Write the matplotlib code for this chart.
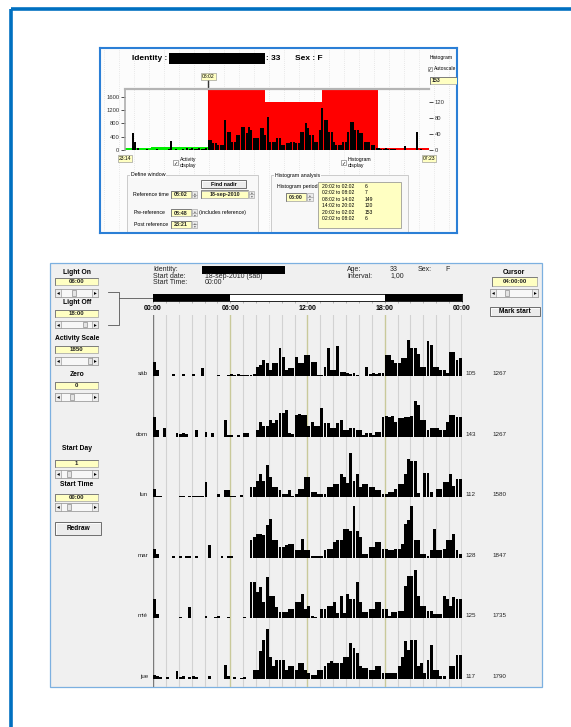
import matplotlib
matplotlib.use("Agg")
import matplotlib.pyplot as plt
import matplotlib.transforms as mtransforms
from matplotlib.patches import Rectangle
import numpy as np

plt.rcParams["font.family"] = ["Liberation Sans", "DejaVu Sans"]

W, H = 571, 727

# ---------------- values ----------------
age = "33"
sex = "F"
start_date = "18-sep-2010 (sáb)"

# reference window (hours counted from the first midnight)
ref_time = 32 + 2 / 60
pre_ref = 8 + 48 / 60
post_ref = 23 + 21 / 60
hist_period = 6
hist_values = [6, 7, 149, 120, 153, 6]

# 15 min activity bins of the reference window, from 23:14 on
top_bin = 0.25
top_activity = [
    0, 0, 0, 500, 250, 60, 0, 0, 0, 20, 0, 0, 0, 30, 0, 0,
    0, 0, 20, 280, 0, 20, 0, 0, 30, 0, 70, 40, 70, 40, 20, 50,
    30, 40, 60, 300, 300, 200, 200, 150, 150, 150, 900, 550, 550, 250, 250, 450,
    450, 700, 700, 500, 700, 600, 350, 350, 350, 650, 650, 450, 1000, 250, 250, 250,
    350, 350, 150, 150, 200, 200, 250, 250, 200, 200, 550, 550, 800, 650, 450, 450,
    250, 250, 600, 1250, 900, 900, 550, 550, 250, 150, 150, 150, 250, 250, 550, 850,
    850, 600, 600, 500, 500, 250, 250, 250, 150, 150, 70, 70, 40, 40, 50, 40,
    40, 40, 40, 0, 0, 0, 130, 0, 0, 0, 0, 550, 0, 20, 0, 0,
]

# actogram, one row per day, 15 min bins from 00:00
days = ["sáb", "dom", "lun", "mar", "mié", "jue"]
row_counts = [105, 143, 112, 128, 125, 117]
row_max = [1267, 1267, 1580, 1847, 1735, 1790]
act_bin = 0.25
activity_scale = 1850
light_on, light_off = 6, 18

sab = [500, 200, 0, 0, 0, 0, 60, 0, 0, 80, 0, 0, 80, 0, 0, 270,
       0, 0, 0, 0, 40, 0, 0, 50, 60, 40, 70, 30, 40, 50, 30, 60,
       330, 400, 570, 450, 210, 450, 450, 980, 690, 210, 270, 270, 690, 450, 450, 750,
       750, 510, 510, 40, 40, 330, 985, 210, 210, 1070, 150, 150, 90, 60, 90, 40,
       0, 0, 330, 60, 90, 60, 90, 120, 750, 750, 570, 450, 450, 630, 630, 1267,
       980, 980, 800, 330, 330, 1250, 1100, 330, 330, 210, 210, 90, 860, 860, 570, 630]
dom = [710, 240, 0, 300, 0, 0, 0, 120, 100, 120, 80, 0, 0, 240, 0, 0,
       180, 0, 120, 0, 0, 0, 590, 60, 40, 0, 60, 0, 120, 120, 0, 0,
       240, 530, 360, 360, 590, 470, 590, 830, 830, 950, 120, 80, 770, 790, 760, 770,
       360, 530, 360, 360, 1010, 470, 470, 300, 300, 470, 590, 240, 240, 300, 300, 240,
       240, 60, 120, 120, 60, 180, 180, 710, 740, 700, 720, 530, 650, 650, 710, 710,
       720, 1267, 1130, 590, 590, 240, 300, 300, 300, 240, 240, 530, 770, 770, 710, 710]
lun = [300, 60, 60, 0, 0, 0, 0, 0, 40, 60, 0, 40, 50, 60, 40, 60,
       530, 0, 0, 0, 120, 0, 240, 240, 60, 60, 0, 80, 0, 0, 360, 360,
       590, 830, 590, 1130, 710, 360, 360, 240, 120, 120, 240, 60, 120, 300, 300, 710,
       710, 180, 180, 100, 120, 120, 360, 360, 470, 470, 830, 710, 500, 1580, 590, 830,
       360, 470, 470, 360, 360, 240, 240, 120, 120, 180, 180, 300, 470, 470, 830, 1360,
       1300, 1300, 140, 0, 870, 870, 180, 0, 300, 300, 530, 530, 830, 410, 650, 650]
mar = [320, 140, 0, 0, 0, 0, 80, 0, 80, 0, 60, 80, 0, 80, 0, 0,
       0, 440, 0, 0, 0, 60, 0, 80, 60, 0, 0, 0, 0, 0, 620, 740,
       860, 860, 800, 1150, 1380, 620, 620, 380, 380, 440, 500, 500, 260, 260, 680, 260,
       260, 80, 60, 80, 80, 260, 320, 320, 560, 620, 620, 1030, 1030, 970, 1847, 970,
       740, 140, 140, 380, 380, 560, 560, 320, 320, 260, 260, 320, 320, 500, 1210, 1330,
       1847, 620, 620, 140, 140, 80, 260, 1030, 260, 260, 320, 620, 620, 860, 260, 140]
mie = [690, 150, 0, 0, 0, 0, 0, 0, 60, 0, 0, 390, 0, 0, 0, 0,
       90, 0, 0, 60, 90, 0, 0, 60, 0, 0, 0, 0, 40, 0, 1280, 1280,
       930, 1100, 570, 1460, 800, 800, 390, 210, 210, 210, 330, 330, 570, 570, 870, 330,
       450, 100, 60, 0, 330, 330, 450, 450, 570, 200, 800, 200, 870, 690, 690, 1280,
       570, 210, 210, 330, 330, 570, 570, 330, 330, 100, 210, 210, 270, 270, 1160, 1510,
       1510, 1735, 800, 450, 450, 270, 270, 160, 160, 160, 800, 690, 450, 750, 690, 690]
jue = [150, 90, 60, 0, 60, 0, 0, 270, 60, 90, 0, 60, 90, 60, 0, 0,
       0, 90, 0, 0, 0, 0, 510, 90, 0, 60, 0, 40, 60, 0, 0, 330,
       330, 1000, 1400, 1790, 800, 450, 690, 690, 690, 330, 450, 450, 330, 570, 570, 330,
       210, 150, 150, 330, 330, 450, 570, 630, 570, 570, 570, 800, 800, 1280, 1100, 920,
       450, 390, 390, 330, 330, 450, 450, 210, 210, 210, 210, 210, 450, 800, 1340, 1040,
       1400, 1400, 450, 570, 210, 690, 1220, 330, 330, 90, 90, 0, 450, 450, 860, 860]
day_activity = [sab, dom, lun, mar, mie, jue]


def fmt(h):
    m = int(round(h * 60)) % (24 * 60)
    return f"{m // 60:02d}:{m % 60:02d}"


def frac(x0, y0, x1, y1):
    return [x0 / W, 1 - y1 / H, (x1 - x0) / W, (y1 - y0) / H]


def field(ax, x0, y0, x1, y1, label, ha="center", fs=4.4):
    ax.add_patch(Rectangle((x0, y0), x1 - x0, y1 - y0, fc="#ffffc2", ec="#a0a0a0", lw=0.5, zorder=3))
    ax.plot([x0, x0, x1], [y1, y0, y0], color="#666666", lw=0.5, zorder=4)
    tx = (x0 + x1) / 2 if ha == "center" else x0 + 2
    ax.text(tx, (y0 + y1) / 2 + 0.3, label, fontsize=fs, fontweight="bold", ha=ha, va="center",
            color="#222222", zorder=5)


def scroll(ax, x0, y0, x1, y1, thumb):
    ax.add_patch(Rectangle((x0, y0), x1 - x0, y1 - y0, fc="#f7f7f7", ec="#8c8c8c", lw=0.5, zorder=3))
    for bx, arrow in ((x0, "◂"), (x1 - 6, "▸")):
        ax.add_patch(Rectangle((bx, y0), 6, y1 - y0, fc="#ececec", ec="#8c8c8c", lw=0.4, zorder=3))
        ax.text(bx + 3, (y0 + y1) / 2, arrow, fontsize=4, ha="center", va="center",
                family="DejaVu Sans", zorder=5)
    ax.add_patch(Rectangle((thumb, y0 + 0.6), 4, y1 - y0 - 1.2, fc="#e4e4e4", ec="#777777", lw=0.4, zorder=4))


def button(ax, x0, y0, x1, y1, label, fs=4.7):
    ax.add_patch(Rectangle((x0, y0), x1 - x0, y1 - y0, fc="#ececec", ec="#6e6e6e", lw=0.7, zorder=3))
    ax.plot([x0 + 0.6, x0 + 0.6, x1 - 1], [y1 - 1, y0 + 0.6, y0 + 0.6], color="white", lw=0.6, zorder=4)
    ax.text((x0 + x1) / 2, (y0 + y1) / 2 + 0.3, label, fontsize=fs, fontweight="bold",
            ha="center", va="center", zorder=5)


def spin(ax, x0, y0, x1, y1):
    ym = (y0 + y1) / 2
    for a, b, arrow in ((y0, ym, "▴"), (ym, y1, "▾")):
        ax.add_patch(Rectangle((x0, a), x1 - x0, b - a, fc="#ececec", ec="#9a9a9a", lw=0.4, zorder=3))
        ax.text((x0 + x1) / 2, (a + b) / 2, arrow, fontsize=2.6, ha="center", va="center",
                family="DejaVu Sans", color="#666666", zorder=5)


def check(ax, x, y):
    ax.add_patch(Rectangle((x, y), 4.5, 4.5, fc="white", ec="#666666", lw=0.4, zorder=3))
    ax.text(x + 2.25, y + 2.4, "✓", fontsize=3.6, ha="center", va="center",
            family="DejaVu Sans", zorder=5)


fig = plt.figure(figsize=(W / 100, H / 100), dpi=100)
fig.patch.set_facecolor("white")

pg = fig.add_axes([0, 0, 1, 1])
pg.set_xlim(0, W)
pg.set_ylim(H, 0)
pg.axis("off")

# outer page frame
pg.plot([11, 11], [9, H], color="#0070c0", lw=2.6, solid_capstyle="butt")
pg.plot([11, W], [9, 9], color="#0070c0", lw=2.6, solid_capstyle="butt")

# ================= inset screenshot (reference window) =================
ins = fig.add_axes(frac(100, 47.7, 456.7, 232.7))
ins.set_xlim(100, 456.7)
ins.set_ylim(232.7, 47.7)
ins.set_facecolor("#fcfcfc")
ins.set_xticks([])
ins.set_yticks([])
for s in ins.spines.values():
    s.set_color("#2b7fd6")
    s.set_linewidth(1.5)

for gx in np.arange(104, 456, 15):
    ins.plot([gx, gx], [50, 231], color="#d6d6d6", lw=0.5, ls=(0, (1, 2)), zorder=0)

ins.text(132, 58.5, "Identity :", fontsize=6, fontweight="bold", va="center")
ins.add_patch(Rectangle((169, 53), 96, 11, fc="black", zorder=3))
ins.text(266, 58.5, ": " + age, fontsize=6, fontweight="bold", va="center")
ins.text(295, 58.5, "Sex : " + sex, fontsize=6, fontweight="bold", va="center")
ins.text(430, 57, "Histogram", fontsize=3.6, va="center", clip_on=True)
check(ins, 427.5, 66.8)
ins.text(433.5, 69, "Autoscale", fontsize=3.6, va="center", clip_on=True)
field(ins, 430, 77, 458, 84, str(max(hist_values)), ha="left", fs=3.8)

check(ins, 173, 160)
ins.text(180, 159, "Activity", fontsize=3.7, va="center")
ins.text(180, 165.5, "display", fontsize=3.7, va="center")
check(ins, 341, 160)
ins.text(348, 159, "Histogram", fontsize=3.7, va="center")
ins.text(348, 165.5, "display", fontsize=3.7, va="center")

# Define window group
ins.add_patch(Rectangle((127, 175), 131, 65, fc="#f8f8f8", ec="#c4c4c4", lw=0.6, zorder=1))
ins.text(131, 175, "Define window", fontsize=3.8, va="center", zorder=2,
         bbox=dict(boxstyle="square,pad=0.1", fc="#fcfcfc", ec="none"))
button(ins, 201, 180, 246, 188, "Find nadir", fs=3.8)
ins.text(133, 194.5, "Reference time", fontsize=3.8, va="center")
field(ins, 171, 191, 191, 198, fmt(ref_time), fs=3.9)
spin(ins, 192, 191, 197, 198)
field(ins, 201, 190.5, 248, 198, start_date.split(" ")[0], fs=3.9)
spin(ins, 249, 190.5, 254, 198)
ins.text(134, 212.7, "Pre-reference", fontsize=3.8, va="center")
field(ins, 171, 209.3, 191, 216.3, fmt(pre_ref), fs=3.9)
spin(ins, 192, 209.3, 197, 216.3)
ins.text(199, 212.7, "(includes reference)", fontsize=3.8, va="center")
ins.text(134, 224.3, "Post reference", fontsize=3.8, va="center")
field(ins, 171, 221, 191, 228, fmt(post_ref), fs=3.9)
spin(ins, 192, 221, 197, 228)

# Histogram analysis group
ins.add_patch(Rectangle((271, 175), 137, 65, fc="#f8f8f8", ec="#c4c4c4", lw=0.6, zorder=1))
ins.text(275, 175, "Histogram analysis", fontsize=3.8, va="center", zorder=2,
         bbox=dict(boxstyle="square,pad=0.1", fc="#fcfcfc", ec="none"))
ins.text(277, 186.7, "Histogram period", fontsize=3.8, va="center")
field(ins, 286, 193, 306, 201, fmt(hist_period), fs=3.9)
spin(ins, 307, 193, 313, 201)
ins.add_patch(Rectangle((318, 182), 83, 46, fc="#ffffc2", ec="#8a8a8a", lw=0.5, zorder=3))
hist_starts = [ref_time - 2 * hist_period + k * hist_period for k in range(len(hist_values))]
for k, (hs, hv) in enumerate(zip(hist_starts, hist_values)):
    yy = 186 + k * 6.6
    ins.text(322, yy, f"{fmt(hs)} to {fmt(hs + hist_period)}", fontsize=3.6, va="center", zorder=5)
    ins.text(365, yy, str(hv), fontsize=3.6, va="center", zorder=5)

# histogram + activity plot
win_start = ref_time - pre_ref
win_end = ref_time + post_ref
prect = frac(125, 88.5, 429, 150)

ax_h = fig.add_axes(prect)
ax_h.set_facecolor("none")
ax_h.set_xlim(win_start, win_end)
ax_h.set_ylim(0, max(hist_values))
hist_colors = ["#00ee00" if hs < ref_time else "#ff0000" for hs in hist_starts]
ax_h.bar(hist_starts, hist_values, width=hist_period, align="edge", color=hist_colors, lw=0)
for s in ax_h.spines.values():
    s.set_visible(False)
ax_h.set_xticks([])
ax_h.yaxis.tick_right()
ax_h.set_yticks([0, 40, 80, 120])
ax_h.tick_params(axis="y", direction="out", length=3, width=0.6, colors="#333333",
                 labelsize=4.2, pad=1)

ax_a = fig.add_axes(prect)
ax_a.set_facecolor("none")
ax_a.set_xlim(win_start, win_end)
ax_a.set_ylim(0, activity_scale)
top_times = win_start + np.arange(len(top_activity)) * top_bin
ax_a.bar(top_times, top_activity, width=top_bin * 0.85, align="edge", color="black", lw=0)
ax_a.spines["right"].set_visible(False)
ax_a.spines["bottom"].set_visible(False)
ax_a.spines["left"].set_color("#a8a8a8")
ax_a.spines["left"].set_linewidth(1.1)
ax_a.spines["top"].set_color("#b4b4b4")
ax_a.spines["top"].set_linewidth(1.6)
ax_a.set_xticks([])
ax_a.set_yticks([0, 400, 800, 1200, 1600])
ax_a.tick_params(axis="y", direction="out", length=3, width=0.6, colors="#333333",
                 labelsize=4.2, pad=1)

blend = mtransforms.blended_transform_factory(ax_a.transData, ax_a.transAxes)
ybox = dict(boxstyle="square,pad=0.2", fc="#ffffc2", ec="#8a8a8a", lw=0.4)
ax_a.plot([ref_time, ref_time], [1.0, 1.14], transform=blend, clip_on=False, color="#333333", lw=1)
ax_a.text(ref_time, 1.2, fmt(ref_time), transform=blend, fontsize=3.6, ha="center", va="center",
          bbox=ybox, clip_on=False)
ax_a.text(win_start, -0.14, fmt(win_start), transform=blend, fontsize=3.6, ha="center",
          va="center", bbox=ybox, clip_on=False)
ax_a.text(win_end, -0.14, fmt(win_end), transform=blend, fontsize=3.6, ha="center",
          va="center", bbox=ybox, clip_on=False)

# ================= actogram window =================
pg.add_patch(Rectangle((50, 263), 492, 424, fc="#f0f0f0", ec="#7cb0e0", lw=0.9, zorder=1))

# left control column
field(pg, 55, 278, 98, 285, fmt(light_on))
pg.text(77, 272, "Light On", fontsize=4.9, fontweight="bold", ha="center", va="center")
scroll(pg, 55, 289, 98, 297, 72)
pg.text(77, 303, "Light Off", fontsize=4.9, fontweight="bold", ha="center", va="center")
field(pg, 55, 310, 98, 317, fmt(light_off))
scroll(pg, 55, 321, 98, 328, 83)
pg.text(77, 339, "Activity Scale", fontsize=4.9, fontweight="bold", ha="center", va="center")
field(pg, 55, 346, 98, 353, str(activity_scale))
scroll(pg, 55, 357, 98, 365, 88)
pg.text(77, 375, "Zero", fontsize=4.9, fontweight="bold", ha="center", va="center")
field(pg, 55, 382, 98, 389, "0")
scroll(pg, 55, 393, 98, 401, 70)
pg.text(77, 449, "Start Day", fontsize=4.9, fontweight="bold", ha="center", va="center")
field(pg, 55, 460, 98, 467, "1")
scroll(pg, 55, 470, 98, 478, 67)
pg.text(77, 485, "Start Time", fontsize=4.9, fontweight="bold", ha="center", va="center")
field(pg, 55, 494, 98, 501, "00:00")
scroll(pg, 55, 503, 98, 511, 67)
button(pg, 55, 522, 101, 535, "Redraw")

pg.plot([108, 119, 119, 108], [292, 292, 325, 325], color="#555555", lw=0.6)
pg.plot([119, 153], [297.5, 297.5], color="#555555", lw=0.6)

# header
for yy, lab in ((269.5, "Identity:"), (276, "Start date:"), (282.5, "Start Time:")):
    pg.text(153, yy, lab, fontsize=5, va="center", color="#222222")
pg.add_patch(Rectangle((202, 266), 83, 8, fc="black", zorder=3))
pg.text(205, 276.5, start_date, fontsize=5, va="center", color="#222222")
pg.text(205, 283, "00:00", fontsize=5, va="center", color="#222222")
pg.text(347, 269.5, "Age:", fontsize=5, va="center", color="#222222")
pg.text(390, 269.5, age, fontsize=5, va="center", color="#222222")
pg.text(418, 269.5, "Sex:", fontsize=5, va="center", color="#222222")
pg.text(445, 269.5, sex, fontsize=5, va="center", color="#222222")
pg.text(347, 276, "Interval:", fontsize=5, va="center", color="#222222")
pg.text(390, 276, "1,00", fontsize=5, va="center", color="#222222")

# cursor block
pg.text(514, 272, "Cursor", fontsize=4.9, fontweight="bold", ha="center", va="center")
field(pg, 492, 277, 537, 286, "04:00:00")
scroll(pg, 490, 289, 538, 297, 505)
button(pg, 490, 307, 540, 316, "Mark start")

# light / dark bar
tb = fig.add_axes(frac(153, 294, 462, 301))
tb.set_xlim(0, 24)
tb.set_ylim(0, 1)
tb.set_facecolor("white")
tb.axvspan(0, light_on, color="black", lw=0)
tb.axvspan(light_off, 24, color="black", lw=0)
for s in tb.spines.values():
    s.set_color("black")
    s.set_linewidth(0.6)
tb.set_yticks([])
tb.set_xticks(range(25))
tb.tick_params(axis="x", direction="out", length=1.5, width=0.4, colors="#8a8a8a", labelbottom=False)

# hour grid
bg = fig.add_axes(frac(153, 315, 462, 687))
bg.set_facecolor("none")
bg.set_xlim(0, 24)
bg.set_ylim(0, 1)
for s in bg.spines.values():
    s.set_visible(False)
bg.set_yticks([])
for hr in range(25):
    if hr in (0, 24):
        col, lw = "#7a7a7a", 1.0
    elif hr % 6 == 0:
        col, lw = "#c9c99a", 1.0
    else:
        col, lw = "#d2d2d2", 0.8
    bg.axvline(hr, color=col, lw=lw, zorder=0)
bg.xaxis.tick_top()
bg.set_xticks([0, 6, 12, 18, 24])
bg.set_xticklabels([fmt(t) for t in [0, 6, 12, 18, 24]], fontsize=5, fontweight="bold")
bg.tick_params(axis="x", length=0, pad=2.2)

# day rows
for i, vals in enumerate(day_activity):
    yb = 376 + i * 60.6
    rax = fig.add_axes(frac(153, yb - 52, 462, yb))
    rax.set_xlim(0, 24)
    rax.set_ylim(0, activity_scale)
    rax.axis("off")
    rax.bar(np.arange(len(vals)) * act_bin, vals, width=act_bin * 0.9, align="edge",
            color="black", lw=0)
    pg.text(148, yb - 2.5, days[i], fontsize=4.5, ha="right", va="center", color="#222222")
    pg.text(465, yb - 2.5, str(row_counts[i]), fontsize=4.5, va="center", color="#222222")
    pg.text(492, yb - 2.5, str(row_max[i]), fontsize=4.5, va="center", color="#222222")

fig.savefig("out.png", dpi=100)
